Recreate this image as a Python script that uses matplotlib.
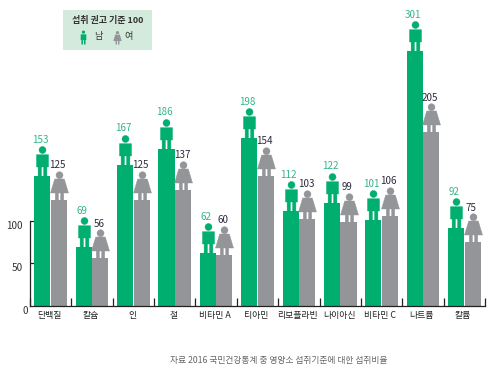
import matplotlib
matplotlib.use("Agg")
import matplotlib.pyplot as plt
import numpy as np
from matplotlib.path import Path
from matplotlib.patches import Rectangle
from matplotlib.transforms import Affine2D, ScaledTranslation

plt.rcParams['font.family'] = ['Noto Sans CJK KR', 'DejaVu Sans']

categories = ['단백질', '칼슘', '인', '철', '비타민 A', '티아민', '리보플라빈', '나이아신', '비타민 C', '나트륨', '칼륨']
male = [153, 69, 167, 186, 62, 198, 112, 122, 101, 301, 92]
female = [125, 56, 125, 137, 60, 154, 103, 99, 106, 205, 75]

GREEN = '#00ae6f'
GRAY = '#939598'
W, H = 502, 375


def poly(pts):
    return Path(pts + [pts[0]], closed=True)


def head(cy, r=3.5):
    return Path.unit_circle().transformed(Affine2D().scale(r).translate(0, cy))


# icons are drawn in pixels above the point they stand on, head top = 30
man = Path.make_compound_path(
    head(26.5),
    poly([(-6, 9.5), (-6, 21.8), (6, 21.8), (6, 9.5), (4.4, 9.5), (4.4, 0), (1.1, 0), (1.1, 9.5),
          (-1.1, 9.5), (-1.1, 0), (-4.4, 0), (-4.4, 9.5)]),
)
woman = Path.make_compound_path(
    head(25.3),
    poly([(-9, 7.5), (-4.8, 21.5), (4.8, 21.5), (9, 7.5), (4.2, 7.5), (4.2, 0), (1.1, 0), (1.1, 7.5),
          (-1.1, 7.5), (-1.1, 0), (-4.2, 0), (-4.2, 7.5)]),
)
# same top for both, so marker scaling stays in pixels
woman = Path.make_compound_path(woman, Path([(0, 30), (0, 30)], closed=False))


def px_ms(height_px):
    return 2 * height_px * 72 / 100


fig = plt.figure(figsize=(W / 100, H / 100), dpi=100)
x0, x1, y0, y1 = 30, 485, 305.7, 0
ax = fig.add_axes([x0 / W, 1 - y0 / H, (x1 - x0) / W, (y0 - y1) / H], zorder=1)
ax.set_xlim(0, len(categories))
ax.set_ylim(0, (y0 - y1) / 0.845)
ax.patch.set_alpha(0)

x = np.arange(len(categories)) + 0.5
bw = 0.39
off = 0.2
ax.bar(x - off, male, bw, color=GREEN, lw=0, zorder=2)
ax.bar(x + off, female, bw, color=GRAY, lw=0, zorder=2)

ax.plot(x - off, male, ls='none', marker=man, ms=px_ms(30), mfc=GREEN, mec=GREEN, mew=0.3,
        clip_on=False, zorder=3)
ax.plot(x + off, female, ls='none', marker=woman, ms=px_ms(30), mfc=GRAY, mec=GRAY, mew=0.3,
        clip_on=False, zorder=3)

for xi, v in zip(x - off, male):
    ax.annotate(str(v), (xi, v), xytext=(-1.3, 26), textcoords='offset points', ha='center', va='center',
                fontsize=7.1, color='#35b48a', clip_on=False)
for xi, v in zip(x + off, female):
    ax.annotate(str(v), (xi, v), xytext=(-0.8, 25), textcoords='offset points', ha='center', va='center',
                fontsize=7.1, color='#2f2b3e', clip_on=False)

for s in ['top', 'right']:
    ax.spines[s].set_visible(False)
ax.spines['left'].set_bounds(0, 100)
ax.spines['left'].set_linewidth(0.9)
ax.spines['bottom'].set_linewidth(0.9)
ax.spines['left'].set_color('#222222')
ax.spines['bottom'].set_color('#222222')

ax.set_yticks([50, 100])
ax.set_yticklabels(['50', '100'], fontsize=7.2, color='#333333', va='center')
ax.tick_params(axis='y', direction='in', length=3.4, width=0.9, color='#222222', pad=5.4)
for lab in ax.get_yticklabels():
    lab.set_transform(lab.get_transform() + ScaledTranslation(0, -3.6 / 72, fig.dpi_scale_trans))
ax.annotate('0', (0, 0), xytext=(-3.6, -3.6), textcoords='offset points', ha='center', va='center',
            fontsize=7.2, color='#333333', annotation_clip=False)

ax.set_xticks(np.arange(len(categories) + 1))
ax.set_xticklabels([])
ax.tick_params(axis='x', which='major', direction='in', length=5.8, width=0.9, color='#222222')
ax.set_xticks(x - 0.03, minor=True)
ax.set_xticklabels(categories, minor=True, fontsize=6.4, color='#222222')
ax.tick_params(axis='x', which='minor', length=0, pad=4)

# legend box
fig.patches.append(Rectangle((63 / W, 1 - 50 / H), 89 / W, 40 / H, transform=fig.transFigure,
                             facecolor='#d3eadd', edgecolor='none', zorder=0))
fig.text(108 / W, 1 - 20.5 / H, '섭취 권고 기준 100', ha='center', va='center', fontsize=6.5,
         fontweight='bold', color='#333333', zorder=5)
ax.plot([83 / W], [1 - 44 / H], transform=fig.transFigure, marker=man, ms=px_ms(14), mfc=GREEN, mec='none',
        ls='none', clip_on=False)
ax.plot([117 / W], [1 - 44 / H], transform=fig.transFigure, marker=woman, ms=px_ms(14), mfc=GRAY, mec='none',
        ls='none', clip_on=False)
fig.text(98 / W, 1 - 37 / H, '남', ha='center', va='center', fontsize=6.5, color='#333333', zorder=5)
fig.text(129 / W, 1 - 37 / H, '여', ha='center', va='center', fontsize=6.5, color='#333333', zorder=5)

fig.text(279 / W, 1 - 361 / H, '자료 2016 국민건강통계 중 영양소 섭취기준에 대한 섭취비율', ha='center', va='center',
         fontsize=6.3, color='#666666')

fig.savefig('out.png', dpi=100)
